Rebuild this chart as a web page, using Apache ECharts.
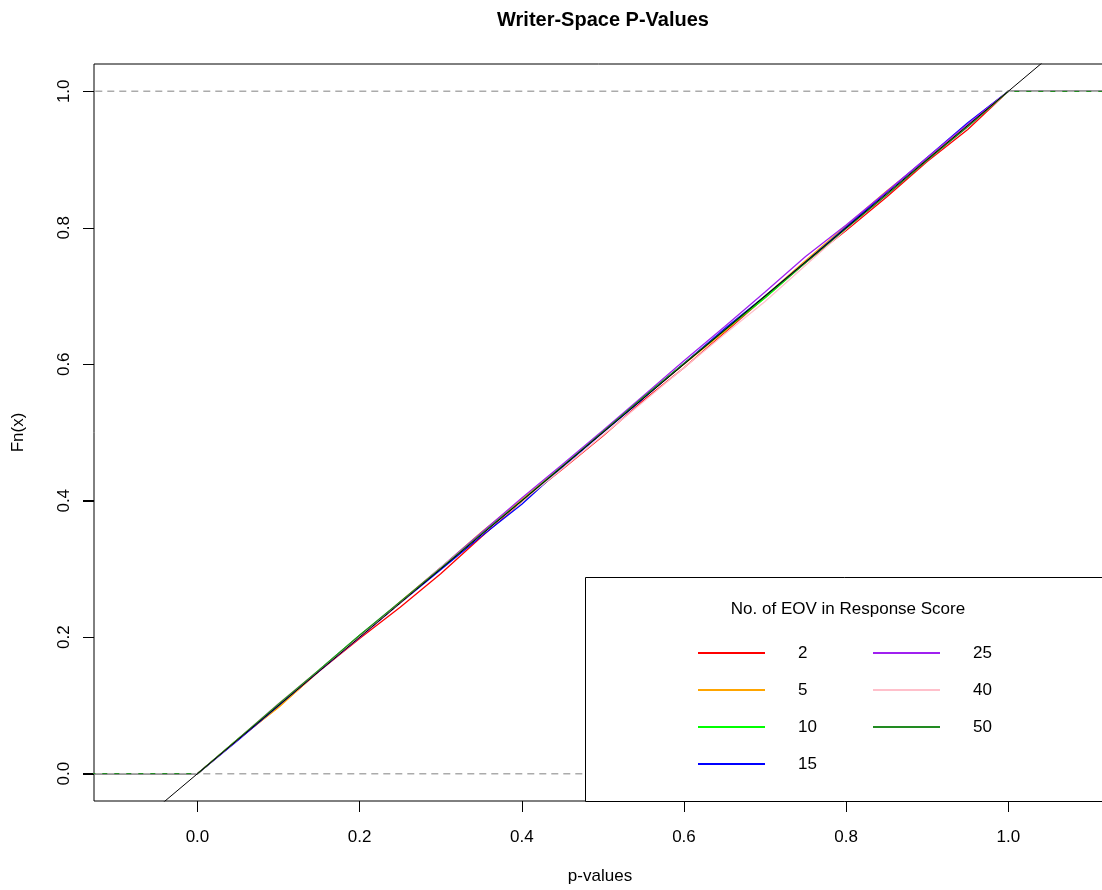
<!DOCTYPE html>
<html>
<head>
<meta charset="utf-8">
<title>Writer-Space P-Values</title>
<script src="https://cdn.jsdelivr.net/npm/echarts@6/dist/echarts.min.js"></script>
<style>
  html, body { margin: 0; padding: 0; background: #fff; }
  #main { width: 1102px; height: 890px; }
</style>
</head>
<body>
<div id="main"></div>
<script>
  // p-value grid (tails at -0.2 / 1.2 draw the flat ecdf ends)
  var pGrid = [-0.2, 0, 0.05, 0.1, 0.15, 0.2, 0.25, 0.3, 0.35, 0.4, 0.45, 0.5,
               0.55, 0.6, 0.65, 0.7, 0.75, 0.8, 0.85, 0.9, 0.95, 1, 1.2]

  // Fn(x), one array per no. of EOV
  var fn2  = [0, 0, 0.050, 0.098, 0.150, 0.198, 0.244, 0.293, 0.347, 0.399, 0.446, 0.495, 0.547, 0.595, 0.646, 0.698, 0.749, 0.796, 0.845, 0.897, 0.944, 1, 1]
  var fn5  = [0, 0, 0.051, 0.097, 0.151, 0.200, 0.252, 0.302, 0.354, 0.402, 0.451, 0.500, 0.551, 0.600, 0.648, 0.700, 0.752, 0.803, 0.854, 0.901, 0.952, 1, 1]
  var fn10 = [0, 0, 0.051, 0.100, 0.152, 0.203, 0.251, 0.301, 0.352, 0.400, 0.451, 0.501, 0.552, 0.601, 0.650, 0.697, 0.749, 0.800, 0.849, 0.900, 0.949, 1, 1]
  var fn15 = [0, 0, 0.049, 0.100, 0.151, 0.200, 0.250, 0.299, 0.348, 0.395, 0.449, 0.500, 0.550, 0.601, 0.652, 0.700, 0.750, 0.801, 0.852, 0.903, 0.954, 1, 1]
  var fn25 = [0, 0, 0.050, 0.102, 0.150, 0.200, 0.251, 0.302, 0.353, 0.404, 0.453, 0.503, 0.554, 0.605, 0.655, 0.706, 0.758, 0.804, 0.853, 0.903, 0.952, 1, 1]
  var fn40 = [0, 0, 0.051, 0.103, 0.152, 0.201, 0.250, 0.302, 0.350, 0.399, 0.447, 0.496, 0.545, 0.595, 0.644, 0.692, 0.745, 0.798, 0.849, 0.899, 0.948, 1, 1]
  var fn50 = [0, 0, 0.051, 0.102, 0.152, 0.203, 0.252, 0.301, 0.351, 0.400, 0.450, 0.501, 0.552, 0.601, 0.650, 0.700, 0.749, 0.799, 0.848, 0.899, 0.948, 1, 1]

  var eovNames = ['2', '5', '10', '15', '25', '40', '50']
  var eovValues = [fn2, fn5, fn10, fn15, fn25, fn40, fn50]
  var eovColors = ['#ff0000', '#ffa500', '#00ff00', '#0000ff', '#a020f0', '#ffc0cb', '#228b22']

  var tickValues = [0, 0.2, 0.4, 0.6, 0.8, 1]
  var refLevels = [0, 1]

  var xMin = -0.1276
  var xMax = 1.1205

  var font = 'Liberation Sans, Arial, Helvetica, sans-serif'

  function pairs(xs, ys) {
    var out = []
    for (var i = 0; i < xs.length; i++) out.push([xs[i], ys[i]])
    return out
  }

  var chart = echarts.init(document.getElementById('main'), null, { renderer: 'canvas' })

  var series = eovNames.map(function (name, i) {
    return {
      name: name,
      type: 'line',
      data: pairs(pGrid, eovValues[i]),
      symbol: 'none',
      color: eovColors[i],
      lineStyle: { width: 1.3, color: eovColors[i] },
      animation: false,
      z: 2
    }
  })

  // gray dashed reference lines at 0 and 1
  refLevels.forEach(function (lv) {
    series.push({
      name: 'ref' + lv,
      type: 'line',
      data: [[-0.2, lv], [1.2, lv]],
      symbol: 'none',
      lineStyle: { width: 1.5, color: '#ababab', type: [7, 5] },
      silent: true,
      animation: false,
      z: 3
    })
  })

  // y = x
  series.push({
    name: 'diag',
    type: 'line',
    data: [[-0.2, -0.2], [1.2, 1.2]],
    symbol: 'none',
    lineStyle: { width: 1, color: '#000' },
    silent: true,
    animation: false,
    z: 4
  })

  // y-axis tick marks on the left edge of the box, placed by the y scale
  series.push({
    name: 'yticks',
    type: 'custom',
    clip: false,
    silent: true,
    animation: false,
    zlevel: 1,
    z: 100,
    data: tickValues.map(function (v) { return [0, v] }),
    renderItem: function (params, api) {
      var left = params.coordSys.x
      var y = Math.round(api.coord([0, api.value(1)])[1]) + 0.5
      return {
        type: 'line',
        shape: { x1: left - 11, y1: y, x2: left, y2: y },
        style: { stroke: '#000', lineWidth: 1 }
      }
    }
  })

  var legendText = { fontSize: 17, fontFamily: font, color: '#000', lineHeight: 20, padding: [0, 0, 0, 28] }

  function ticks() {
    return { show: true, inside: false, length: 11, customValues: tickValues.slice(), lineStyle: { color: '#000', width: 1 } }
  }

  chart.setOption({
    backgroundColor: '#fff',
    animation: false,
    title: [
      {
        text: 'Writer-Space P-Values',
        left: 598, top: 5, textAlign: 'center',
        textStyle: { fontSize: 20, fontWeight: 'bold', fontFamily: font, color: '#000' }
      },
      {
        text: 'No. of EOV in Response Score',
        left: 848, top: 601, textAlign: 'center', padding: 0, z: 12,
        textStyle: { fontSize: 17, fontWeight: 'normal', fontFamily: font, color: '#000' }
      }
    ],
    legend: [
      {
        data: ['2', '5', '10', '15'],
        orient: 'vertical', left: 698, top: 643, padding: 0,
        itemWidth: 67, itemHeight: 2, itemGap: 17, icon: 'rect',
        textStyle: legendText, selectedMode: false, z: 12
      },
      {
        data: ['25', '40', '50'],
        orient: 'vertical', left: 873, top: 643, padding: 0,
        itemWidth: 67, itemHeight: 2, itemGap: 17, icon: 'rect',
        textStyle: legendText, selectedMode: false, z: 12
      }
    ],
    grid: {
      left: 94, top: 64, right: -4, bottom: 89,
      outerBoundsMode: 'none', containLabel: false,
      show: true, borderColor: '#000', borderWidth: 1, backgroundColor: 'transparent'
    },
    xAxis: {
      type: 'value',
      min: xMin, max: xMax,
      name: 'p-values', nameLocation: 'middle', nameGap: 67,
      nameTextStyle: { fontSize: 17, fontFamily: font, color: '#000' },
      axisLine: { show: false, onZero: false },
      splitLine: { show: false },
      axisTick: ticks(),
      axisLabel: {
        customValues: tickValues.slice(), margin: 28,
        fontSize: 17, fontFamily: font, color: '#000',
        formatter: function (v) { return v.toFixed(1) }
      }
    },
    yAxis: {
      type: 'value',
      position: 'left',
      min: -0.04, max: 1.04,
      name: 'Fn(x)', nameLocation: 'middle', nameGap: 67,
      nameTextStyle: { fontSize: 17, fontFamily: font, color: '#000' },
      axisLine: { show: false, onZero: false },
      splitLine: { show: false },
      axisTick: ticks(),
      axisLabel: {
        customValues: tickValues.slice(), margin: 21, rotate: 90,
        fontSize: 17, fontFamily: font, color: '#000',
        formatter: function (v) { return v.toFixed(1) }
      }
    },
    graphic: [
      {
        type: 'rect', left: 585, top: 577, z: 10,
        shape: { width: 530, height: 224 },
        style: { fill: '#fff', stroke: '#000', lineWidth: 1 }
      }
    ],
    series: series
  })
</script>
</body>
</html>
